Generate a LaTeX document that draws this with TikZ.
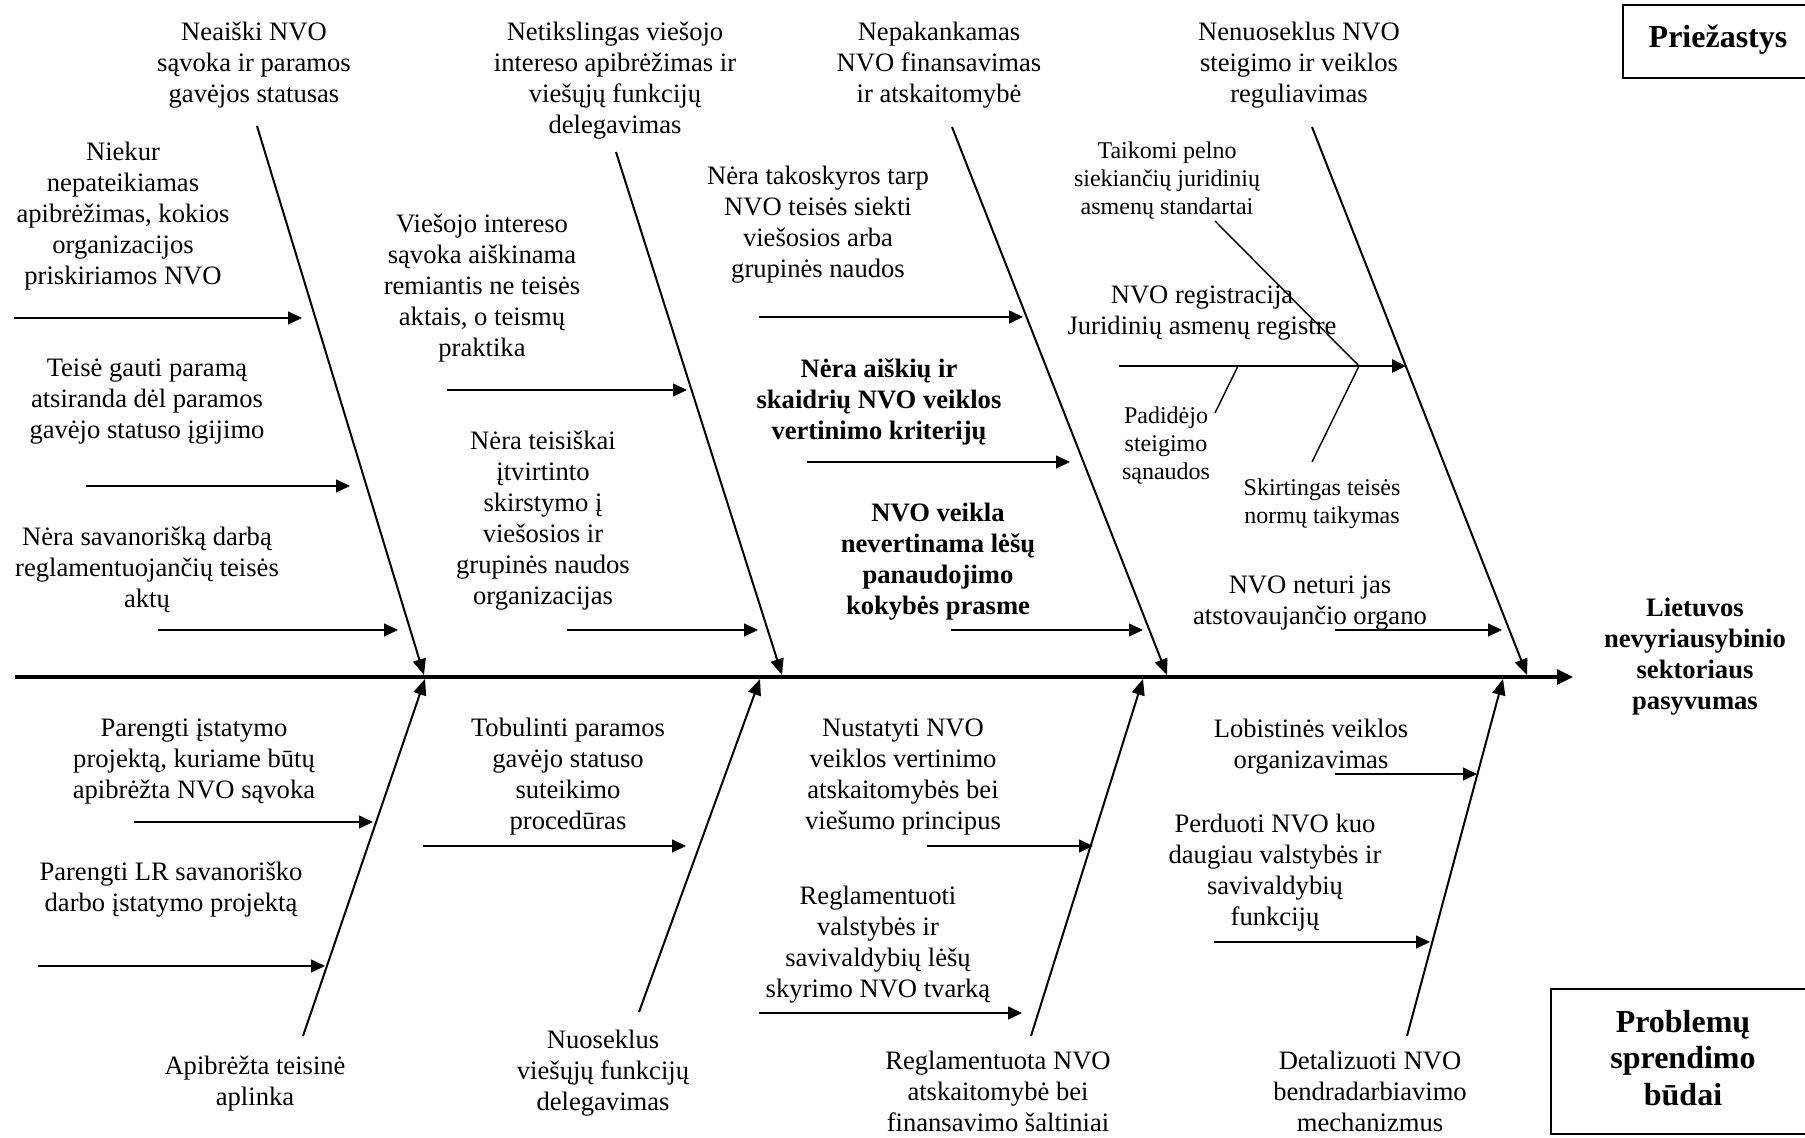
\documentclass[tikz,border=0pt]{standalone}
\usepackage{fontspec}
\setmainfont{Liberation Serif}
\usetikzlibrary{arrows.meta}
\begin{document}
\begin{tikzpicture}[x=0.5pt,y=-0.5pt,
  txt/.style={align=center, inner sep=0pt, yshift=-1pt, font=\fontsize{13.3}{15.5}\selectfont},
  btxt/.style={align=center, inner sep=0pt, yshift=-1pt, font=\fontsize{13.3}{15.5}\selectfont\bfseries},
  stxt/.style={align=center, inner sep=0pt, yshift=-1pt, font=\fontsize{12}{14}\selectfont},
  ttl/.style={align=center, inner sep=0pt, font=\fontsize{16}{18.2}\selectfont\bfseries},
  tbox/.style={draw, line width=1pt},
  bone/.style={line width=1pt, -{Triangle[length=8pt,width=6.5pt]}},
  sub/.style={line width=0.75pt, -{Triangle[length=7pt,width=6.5pt]}},
  thicksub/.style={line width=1.3pt, -{Triangle[length=7pt,width=6.5pt]}},
  twig/.style={line width=0.7pt},
  spine/.style={line width=1.6pt, -{Triangle[length=8pt,width=7.5pt]}},
]
\useasboundingbox (0,0) rectangle (1805,1138);

% ---------- spine ----------
\coordinate (sp0) at (15,677);
\coordinate (sp1) at (1573,677);
\draw[spine] (sp0) -- (sp1);

% ---------- cause bones ----------
\coordinate (b1s) at (257,126);  \coordinate (b1e) at (424,675);
\coordinate (b2s) at (616,152);  \coordinate (b2e) at (782,675);
\coordinate (b3s) at (952,127);  \coordinate (b3e) at (1167,675);
\coordinate (b4s) at (1312,127); \coordinate (b4e) at (1527,675);
\draw[bone] (b1s) -- (b1e);
\draw[bone] (b2s) -- (b2e);
\draw[bone] (b3s) -- (b3e);
\draw[bone] (b4s) -- (b4e);

% ---------- solution bones ----------
\coordinate (c1s) at (303,1036); \coordinate (c1e) at (425,679);
\coordinate (c2s) at (639,1012); \coordinate (c2e) at (760,679);
\coordinate (c3s) at (1031,1036);\coordinate (c3e) at (1143,679);
\coordinate (c4s) at (1407,1036);\coordinate (c4e) at (1503,679);
\draw[bone] (c1s) -- (c1e);
\draw[bone] (c2s) -- (c2e);
\draw[bone] (c3s) -- (c3e);
\draw[bone] (c4s) -- (c4e);

% ---------- cause sub-arrows ----------
\coordinate (a1s) at (14,318);   \coordinate (a1e) at (302,318);
\coordinate (a2s) at (86,486);   \coordinate (a2e) at (350,486);
\coordinate (a3s) at (158,630);  \coordinate (a3e) at (398,630);
\coordinate (a4s) at (447,390);  \coordinate (a4e) at (687,390);
\coordinate (a5s) at (567,630);  \coordinate (a5e) at (758,630);
\coordinate (a6s) at (759,317);  \coordinate (a6e) at (1023,317);
\coordinate (a7s) at (807,462);  \coordinate (a7e) at (1070,462);
\coordinate (a8s) at (951,630);  \coordinate (a8e) at (1143,630);
\coordinate (a9s) at (1119,366); \coordinate (a9e) at (1406,366);
\coordinate (a10s) at (1335,630);\coordinate (a10e) at (1502,630);
\draw[sub] (a1s) -- (a1e);
\draw[sub] (a2s) -- (a2e);
\draw[sub] (a3s) -- (a3e);
\draw[sub] (a4s) -- (a4e);
\draw[sub] (a5s) -- (a5e);
\draw[sub] (a6s) -- (a6e);
\draw[sub] (a7s) -- (a7e);
\draw[sub] (a8s) -- (a8e);
\draw[thicksub] (a9s) -- (a9e);
\draw[sub] (a10s) -- (a10e);

% twigs on the registration arrow
\coordinate (j1) at (1359,366);
\coordinate (t1) at (1215,221);
\coordinate (t2) at (1312,462);
\coordinate (t3s) at (1215,413); \coordinate (t3e) at (1238,366);
\draw[twig] (t1) -- (j1);
\draw[twig] (t2) -- (j1);
\draw[twig] (t3s) -- (t3e);

% ---------- solution sub-arrows ----------
\coordinate (s1s) at (134,822);  \coordinate (s1e) at (373,822);
\coordinate (s2s) at (38,966);   \coordinate (s2e) at (325,966);
\coordinate (s3s) at (423,846);  \coordinate (s3e) at (686,846);
\coordinate (s4s) at (759,1013); \coordinate (s4e) at (1022,1013);
\coordinate (s5s) at (927,846);  \coordinate (s5e) at (1093,846);
\coordinate (s6s) at (1335,774); \coordinate (s6e) at (1477,774);
\coordinate (s7s) at (1214,942); \coordinate (s7e) at (1430,942);
\draw[sub] (s1s) -- (s1e);
\draw[sub] (s2s) -- (s2e);
\draw[sub] (s3s) -- (s3e);
\draw[sub] (s4s) -- (s4e);
\draw[sub] (s5s) -- (s5e);
\draw[sub] (s6s) -- (s6e);
\draw[sub] (s7s) -- (s7e);

% ---------- cause category labels ----------
\node[txt] (T1) at (254,63) {Neaiški NVO\\sąvoka ir paramos\\gavėjos statusas};
\node[txt] (T2) at (615,79) {Netikslingas viešojo\\intereso apibrėžimas ir\\viešųjų funkcijų\\delegavimas};
\node[txt] (T3) at (939,63) {Nepakankamas\\NVO finansavimas\\ir atskaitomybė};
\node[txt] (T4) at (1299,63) {Nenuoseklus NVO\\steigimo ir veiklos\\reguliavimas};

% ---------- cause details ----------
\node[txt] (S1) at (123,214) {Niekur\\nepateikiamas\\apibrėžimas, kokios\\organizacijos\\priskiriamos NVO};
\node[txt] (S2) at (147,400) {Teisė gauti paramą\\atsiranda dėl paramos\\gavėjo statuso įgijimo};
\node[txt] (S3) at (147,568) {Nėra savanorišką darbą\\reglamentuojančių teisės\\aktų};
\node[txt] (S4) at (482,286) {Viešojo intereso\\sąvoka aiškinama\\remiantis ne teisės\\aktais, o teismų\\praktika};
\node[txt] (S5) at (543,519) {Nėra teisiškai\\įtvirtinto\\skirstymo į\\viešosios ir\\grupinės naudos\\organizacijas};
\node[txt] (S6) at (818,223) {Nėra takoskyros tarp\\NVO teisės siekti\\viešosios arba\\grupinės naudos};
\node[btxt] (S7) at (879,400) {Nėra aiškių ir\\skaidrių NVO veiklos\\vertinimo kriterijų};
\node[btxt] (S8) at (938,560) {NVO veikla\\nevertinama lėšų\\panaudojimo\\kokybės prasme};
\node[stxt] (S9) at (1167,179) {Taikomi pelno\\siekiančių juridinių\\asmenų standartai};
\node[txt] (S10) at (1202,311) {NVO registracija\\Juridinių asmenų registre};
\node[stxt] (S11) at (1166,444) {Padidėjo\\steigimo\\sąnaudos};
\node[stxt] (S12) at (1322,502) {Skirtingas teisės\\normų taikymas};
\node[txt] (S13) at (1310,601) {NVO neturi jas\\atstovaujančio organo};

% ---------- effect ----------
\node[btxt] (E) at (1695,655) {Lietuvos\\nevyriausybinio\\sektoriaus\\pasyvumas};

% ---------- solution category labels ----------
\node[txt] (L1) at (255,1082) {Apibrėžta teisinė\\aplinka};
\node[txt] (L2) at (603,1071) {Nuoseklus\\viešųjų funkcijų\\delegavimas};
\node[txt] (L3) at (998,1089) {Reglamentuota NVO\\atskaitomybė bei\\finansavimo šaltiniai};
\node[txt] (L4) at (1370,1089) {Detalizuoti NVO\\bendradarbiavimo\\mechanizmus};

% ---------- solution details ----------
\node[txt] (P1) at (194,760) {Parengti įstatymo\\projektą, kuriame būtų\\apibrėžta NVO sąvoka};
\node[txt] (P2) at (171,888) {Parengti LR savanoriško\\darbo įstatymo projektą};
\node[txt] (P3) at (568,775) {Tobulinti paramos\\gavėjo statuso\\suteikimo\\procedūras};
\node[txt] (P4) at (903,775) {Nustatyti NVO\\veiklos vertinimo\\atskaitomybės bei\\viešumo principus};
\node[txt] (P5) at (878,943) {Reglamentuoti\\valstybės ir\\savivaldybių lėšų\\skyrimo NVO tvarką};
\node[txt] (P6) at (1311,745) {Lobistinės veiklos\\organizavimas};
\node[txt] (P7) at (1275,871) {Perduoti NVO kuo\\daugiau valstybės ir\\savivaldybių\\funkcijų};

% ---------- legend boxes ----------
\node[tbox, minimum width=93.5pt, minimum height=36.5pt] (B1) at (1716.5,41.5) {};
\node[ttl] (B1t) at (1718,40) {Priežastys};
\node[tbox, minimum width=129.5pt, minimum height=72.5pt] (B2) at (1680.5,1061.5) {};
\node[ttl] (B2t) at (1683,1058) {Problemų\\sprendimo\\būdai};
\end{tikzpicture}
\end{document}
